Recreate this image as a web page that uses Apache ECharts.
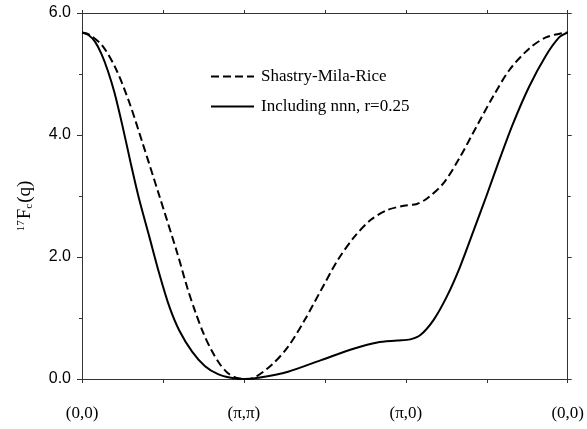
<!DOCTYPE html>
<html lang="en">
<head>
  <meta charset="UTF-8">
  <title>17Fc(q) along the Brillouin zone path</title>
  <script src="https://cdn.jsdelivr.net/npm/echarts@6.0.0/dist/echarts.min.js"></script>
  <style>
    html, body, #main {
      margin: 0;
      padding: 0;
      width: 587px;
      height: 429px;
      background: #fff;
    }
  </style>
</head>
<body>
  <div id="main"></div>

  <script>
    // path positions: 0 = (0,0), 1 = (pi,pi), 2 = (pi,0), 3 = (0,0)
    const pathLabels = ['(0,0)', '(\u03c0,\u03c0)', '(\u03c0,0)', '(0,0)'];

    // Shastry-Mila-Rice (dashed)
    const smrX = [0, 0.049, 0.13, 0.212, 0.294, 0.375, 0.478, 0.59, 0.65, 0.70, 0.75, 0.80, 0.85, 0.90, 0.95, 1.0,
      1.049, 1.171, 1.273, 1.376, 1.477, 1.58, 1.682, 1.784, 1.886, 1.988, 2.069,
      2.131, 2.233, 2.335, 2.437, 2.539, 2.641, 2.763, 2.865, 2.967, 3.0];
    const smrY = [5.68, 5.64, 5.45, 5.07, 4.52, 3.86, 3.0, 2.05, 1.5, 1.1, 0.75, 0.47, 0.25, 0.1, 0.02, 0.0,
      0.01, 0.23, 0.53, 0.97, 1.46, 1.95, 2.33, 2.61, 2.77, 2.84, 2.87,
      2.96, 3.21, 3.64, 4.14, 4.63, 5.07, 5.42, 5.6, 5.67, 5.68];

    // including nnn, r=0.25 (solid)
    const nnnX = [0, 0.04, 0.08, 0.12, 0.16, 0.2, 0.25, 0.3, 0.35, 0.416, 0.478, 0.539, 0.6, 0.68, 0.76,
      0.84, 0.92, 1.0, 1.09, 1.273, 1.477, 1.682, 1.824, 1.947, 2.028, 2.09,
      2.172, 2.253, 2.335, 2.417, 2.498, 2.579, 2.661, 2.763, 2.865, 2.947, 3.0];
    const nnnY = [5.68, 5.64, 5.53, 5.33, 5.05, 4.7, 4.15, 3.55, 2.98, 2.33, 1.72, 1.19, 0.8, 0.45, 0.21,
      0.08, 0.02, 0.0, 0.02, 0.12, 0.31, 0.5, 0.6, 0.63, 0.65, 0.72,
      0.97, 1.35, 1.84, 2.42, 3.0, 3.6, 4.18, 4.8, 5.3, 5.6, 5.68];

    const seriesNames = ['Shastry-Mila-Rice', 'Including nnn, r=0.25'];

    const zip = (xs, ys) => xs.map((x, i) => [x, ys[i]]);

    const serif = 'Liberation Serif';
    const sans = 'Liberation Sans';
    const frame = { show: true, onZero: false, lineStyle: { color: '#333', width: 1 } };
    const tick = len => ({ show: true, length: len, lineStyle: { color: '#333' } });
    const minor = len => ({ show: true, splitNumber: 2, length: len, lineStyle: { color: '#333' } });

    const chart = echarts.init(document.getElementById('main'));
    const option = {
      animation: false,
      grid: { left: 82, right: 15, top: 13, bottom: 50 },
      legend: {
        orient: 'vertical',
        left: 205,
        top: 63,
        itemWidth: 43,
        itemHeight: 14,
        itemGap: 13,
        data: seriesNames,
        itemStyle: { opacity: 0 },
        textStyle: { fontFamily: serif, fontSize: 17, color: '#000', padding: [0, 0, 0, 2] }
      },
      xAxis: [{
        type: 'value',
        min: 0,
        max: 3,
        interval: 1,
        axisLine: frame,
        axisTick: tick(4),
        minorTick: minor(4),
        splitLine: { show: false },
        axisLabel: {
          margin: 26,
          fontFamily: serif,
          fontSize: 17,
          color: '#000',
          formatter: v => pathLabels[Math.round(v)]
        }
      }, {
        type: 'value',
        position: 'top',
        min: 0,
        max: 3,
        interval: 1,
        axisLine: frame,
        axisTick: tick(3),
        minorTick: minor(3),
        splitLine: { show: false },
        axisLabel: { show: false }
      }],
      yAxis: [{
        type: 'value',
        min: 0,
        max: 6,
        interval: 2,
        axisLine: frame,
        axisTick: tick(5),
        minorTick: minor(3),
        splitLine: { show: false },
        axisLabel: {
          margin: 11,
          fontFamily: sans,
          fontSize: 16,
          color: '#000',
          formatter: v => v.toFixed(1)
        },
        name: '{sup|17}{f|F}{sub|c}{f|(q)}',
        nameLocation: 'middle',
        nameRotate: 90,
        nameGap: 47,
        nameTextStyle: {
          fontFamily: serif,
          color: '#000',
          padding: [0, 20, 0, 0],
          rich: {
            sup: { fontFamily: serif, fontSize: 11, color: '#000', verticalAlign: 'top', padding: [0, 1, 0, 0] },
            f: { fontFamily: serif, fontSize: 19, color: '#000' },
            sub: { fontFamily: serif, fontSize: 11, color: '#000', verticalAlign: 'bottom', padding: [0, 1, 0, 0] }
          }
        }
      }, {
        type: 'value',
        position: 'right',
        min: 0,
        max: 6,
        interval: 2,
        axisLine: frame,
        axisTick: tick(4),
        minorTick: minor(3),
        splitLine: { show: false },
        axisLabel: { show: false }
      }],
      series: [{
        name: seriesNames[0],
        type: 'line',
        data: zip(smrX, smrY),
        symbol: 'none',
        smooth: 0.3,
        lineStyle: { color: '#000', width: 2, type: [8, 4] },
        itemStyle: { color: '#000' }
      }, {
        name: seriesNames[1],
        type: 'line',
        data: zip(nnnX, nnnY),
        symbol: 'none',
        smooth: 0.3,
        lineStyle: { color: '#000', width: 2 },
        itemStyle: { color: '#000' }
      }]
    };

    chart.setOption(option);
  </script>
</body>
</html>
